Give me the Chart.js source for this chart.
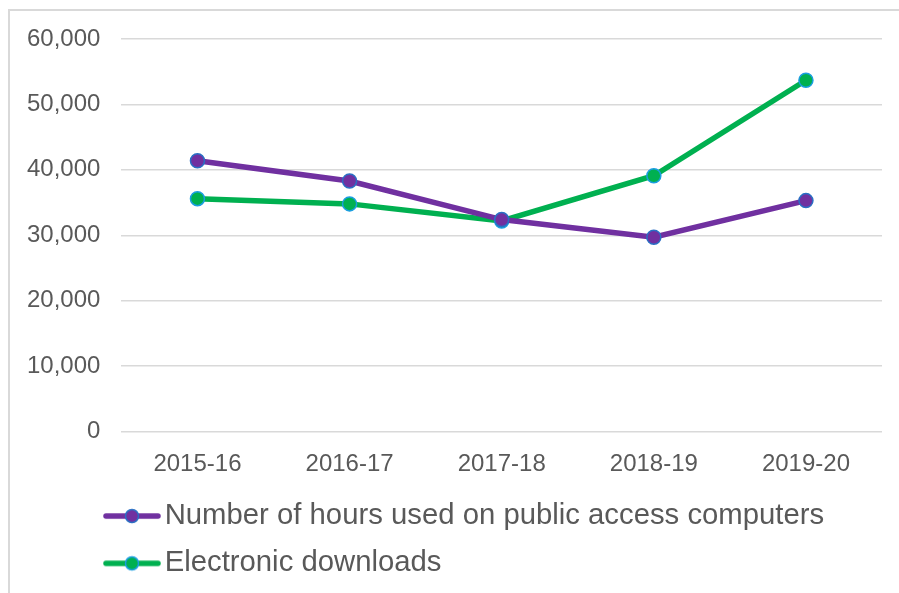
<!DOCTYPE html>
<html>
<head>
<meta charset="utf-8">
<script src="https://cdn.jsdelivr.net/npm/chart.js@4"></script>
<style>
  html, body { margin: 0; padding: 0; background: #fff; }
  #frame { position: absolute; left: 8px; top: 9px; width: 1000px; height: 700px;
           border-left: 2px solid #d9d9d9; border-top: 2px solid #d9d9d9; }
  #wrap { position: absolute; left: 0; top: 0; width: 899px; height: 593px; }
</style>
</head>
<body>
<div id="frame"></div>
<div id="wrap"><canvas id="chart"></canvas></div>
<script>
const years = ['2015-16', '2016-17', '2017-18', '2018-19', '2019-20'];
const hoursUsed = [41400, 38300, 32400, 29700, 35300];
const downloads = [35600, 34800, 32200, 39100, 53700];
const yTicks = [0, 10000, 20000, 30000, 40000, 50000, 60000];

const textColor = '#595959';
const font = 'Arial, "Liberation Sans", sans-serif';
const purple = '#7030a0';
const green = '#00b050';

// legend marker: a short line with a dot in the middle
function legendMark(lineColor, dotBorder) {
  const c = document.createElement('canvas');
  c.width = 58; c.height = 18;
  const g = c.getContext('2d');
  g.strokeStyle = lineColor;
  g.lineWidth = 5.5;
  g.lineCap = 'round';
  g.beginPath(); g.moveTo(3, 9); g.lineTo(55, 9); g.stroke();
  g.beginPath(); g.arc(29, 9, 6.5, 0, Math.PI * 2);
  g.fillStyle = lineColor; g.fill();
  g.lineWidth = 1.5; g.strokeStyle = dotBorder; g.stroke();
  return c;
}

// move the legend block so its rows start under the plot, like the original
const legendShift = {
  id: 'legendShift',
  afterLayout(chart) {
    const lg = chart.legend;
    const w = lg.right - lg.left, h = lg.bottom - lg.top;
    lg.left = 96; lg.right = lg.left + w;
    lg.top -= 5; lg.bottom = lg.top + h;
  }
};

new Chart(document.getElementById('chart'), {
  type: 'line',
  data: {
    labels: years,
    datasets: [{
      label: 'Number of hours used on public access computers',
      data: hoursUsed,
      borderColor: purple,
      borderWidth: 5.5,
      pointRadius: 7,
      pointBackgroundColor: purple,
      pointBorderColor: '#2a6fc4',
      pointBorderWidth: 1.5,
      tension: 0,
      legendMark: legendMark(purple, '#2a6fc4')
    }, {
      label: 'Electronic downloads',
      data: downloads,
      borderColor: green,
      borderWidth: 5.5,
      pointRadius: 7,
      pointBackgroundColor: green,
      pointBorderColor: '#1a9ee0',
      pointBorderWidth: 1.5,
      tension: 0,
      legendMark: legendMark(green, '#1a9ee0')
    }]
  },
  options: {
    responsive: true,
    maintainAspectRatio: false,
    animation: false,
    layout: { padding: { left: 6, right: 17, top: 39, bottom: 0 } },
    plugins: {
      tooltip: { enabled: false },
      legend: {
        position: 'bottom',
        align: 'start',
        labels: {
          color: textColor,
          font: { family: font, size: 29.3 },
          padding: 18,
          usePointStyle: true,
          pointStyleWidth: 36,
          generateLabels: (chart) => chart.data.datasets.map((ds, i) => ({
            text: ds.label,
            fontColor: textColor,
            pointStyle: ds.legendMark,
            datasetIndex: i,
            hidden: false,
            lineWidth: 0
          }))
        }
      }
    },
    scales: {
      x: {
        offset: true,
        grid: { display: false },
        border: { display: false },
        ticks: { color: textColor, font: { family: font, size: 24 }, padding: 10, maxRotation: 0 }
      },
      y: {
        min: 0,
        max: 60000,
        afterBuildTicks: (scale) => { scale.ticks = yTicks.map(v => ({ value: v })); },
        grid: { color: '#d9d9d9', lineWidth: 1.5, drawTicks: false },
        border: { display: false },
        ticks: {
          color: textColor,
          font: { family: font, size: 24 },
          padding: 21,
          callback: (v) => v.toLocaleString('en-US')
        }
      }
    }
  },
  plugins: [legendShift]
});
</script>
</body>
</html>
